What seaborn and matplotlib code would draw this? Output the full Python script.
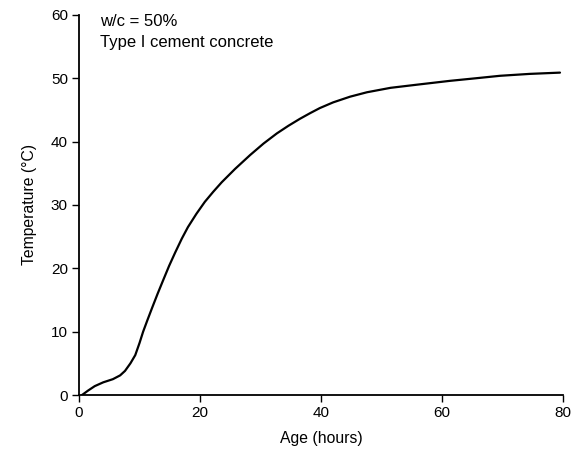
import numpy as np
import pandas as pd
import matplotlib
matplotlib.use('Agg')
import matplotlib.pyplot as plt
import seaborn as sns

# values
age_hours = [0.5, 1.5, 2.6, 4.0, 5.6, 6.8, 7.6, 8.5, 9.3, 10.0, 10.6, 11.3, 12.1,
             13.0, 13.9, 14.9, 15.9, 17.0, 18.0, 19.4, 20.8, 22.2, 23.6, 25.8,
             28.3, 30.5, 32.7, 34.6, 36.5, 38.2, 39.8, 42.0, 44.8, 47.6, 51.5,
             55.9, 61.3, 65.5, 69.6, 74.5, 79.5]
temperature = [0.0, 0.7, 1.4, 2.0, 2.5, 3.1, 3.8, 5.0, 6.3, 8.2, 10.0, 11.8, 13.8,
               16.0, 18.1, 20.4, 22.5, 24.7, 26.5, 28.6, 30.5, 32.1, 33.6, 35.7,
               37.9, 39.7, 41.3, 42.5, 43.6, 44.5, 45.3, 46.2, 47.1, 47.8, 48.5,
               49.0, 49.6, 50.0, 50.4, 50.7, 50.9]
notes = ['w/c = 50%', 'Type I cement concrete']

df = pd.DataFrame({'age': age_hours, 'temp': temperature})

sns.set_style('ticks')
plt.rcParams['font.family'] = ['Liberation Sans', 'DejaVu Sans']
plt.rcParams['text.color'] = 'black'
plt.rcParams['axes.labelcolor'] = 'black'

fig = plt.figure(figsize=(5.83, 4.5), dpi=100)
ax = fig.add_axes([0.1355, 0.1222, 0.8302, 0.8445])

sns.lineplot(data=df, x='age', y='temp', ax=ax, color='black', linewidth=1.6, sort=False)

ax.set_xlim(0, 80)
ax.set_ylim(0, 60)
ax.set_xticks([0, 20, 40, 60, 80])
ax.set_yticks([0, 10, 20, 30, 40, 50, 60])
ax.tick_params(direction='out', length=5, width=1, labelsize=11, colors='black', pad=3)
ax.set_xlabel('Age (hours)', fontsize=11.3, labelpad=8)
ax.set_ylabel('Temperature (°C)', fontsize=11.3, labelpad=10)
sns.despine(ax=ax)
for s in ['left', 'bottom']:
    ax.spines[s].set_linewidth(1.3)
    ax.spines[s].set_color('black')

ax.text(3.5, 58.9, notes[0], fontsize=12, va='center', ha='left', color='black')
ax.text(3.5, 55.6, notes[1], fontsize=12, va='center', ha='left', color='black')

fig.savefig('out.png', dpi=100)
